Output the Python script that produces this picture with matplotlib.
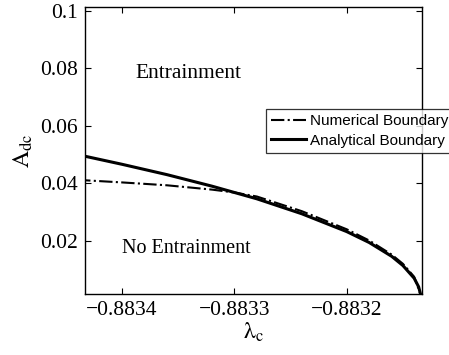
import matplotlib
matplotlib.use("Agg")
import matplotlib.pyplot as plt

plt.rcParams['mathtext.fontset'] = 'stix'

# analytical boundary
lam_ana = [-0.88344, -0.88340, -0.88336, -0.88332, -0.88328, -0.88324,
           -0.88320, -0.88318, -0.88316, -0.88315, -0.88314, -0.883136, -0.883134]
A_ana = [0.0500, 0.0466, 0.0430, 0.0390, 0.0346, 0.0294,
         0.0232, 0.0194, 0.0146, 0.0114, 0.0070, 0.0040, 0.0010]

# numerical boundary
lam_num = [-0.88344, -0.88340, -0.88336, -0.88332, -0.88330, -0.88328, -0.88324,
           -0.88320, -0.88318, -0.88316, -0.88315, -0.88314, -0.883134]
A_num = [0.0412, 0.0403, 0.0393, 0.0378, 0.0368, 0.0354, 0.0303,
         0.0240, 0.0201, 0.0152, 0.0120, 0.0075, 0.0010]

xticks = [-0.8834, -0.8833, -0.8832]
yticks = [0.02, 0.04, 0.06, 0.08, 0.1]
ytick_labels = ['0.02', '0.04', '0.06', '0.08', '0.1']

fig = plt.figure(figsize=(4.49, 3.55), dpi=100)
ax = fig.add_axes([85/449, 1 - 294/355, (422-85)/449, (294-7)/355])

ax.plot(lam_num, A_num, color='black', linestyle='-.', linewidth=1.5,
        label='Numerical Boundary')
ax.plot(lam_ana, A_ana, color='black', linestyle='-', linewidth=2.2,
        label='Analytical Boundary')

ax.set_xlim(-0.883433, -0.883133)
ax.set_ylim(0.0015, 0.1013)
ax.set_xticks(xticks)
ax.set_xticklabels(['\u2212%.4f' % abs(v) for v in xticks])
ax.set_yticks(yticks)
ax.set_yticklabels(ytick_labels)

serif = 'Liberation Serif'
for lab in ax.get_xticklabels() + ax.get_yticklabels():
    lab.set_fontfamily(serif)
    lab.set_fontsize(15.5)
ax.tick_params(direction='in', top=True, right=True, length=4, width=0.8, pad=5)
for s in ax.spines.values():
    s.set_linewidth(1.0)

ax.set_xlabel(r'$\mathrm{\lambda_c}$', fontsize=17, labelpad=0)
ax.set_ylabel(r'$\mathrm{A_{dc}}$', fontsize=17, labelpad=4)

ax.text(-0.883341, 0.0782, 'Entrainment', family=serif, fontsize=15.5,
        ha='center', va='center')
ax.text(-0.883343, 0.0172, 'No Entrainment', family=serif, fontsize=14.5,
        ha='center', va='center')

leg = ax.legend(loc='upper left', bbox_to_anchor=(266/449, 1 - 109/355),
                bbox_transform=fig.transFigure, prop={'family': 'Liberation Sans', 'size': 11},
                frameon=True, fancybox=False, borderpad=0.35, handlelength=2.3,
                handletextpad=0.25, labelspacing=0.35, borderaxespad=0)
leg.get_frame().set_edgecolor('black')
leg.get_frame().set_linewidth(0.9)
leg.set_clip_on(False)

fig.savefig('out.png', dpi=100)
